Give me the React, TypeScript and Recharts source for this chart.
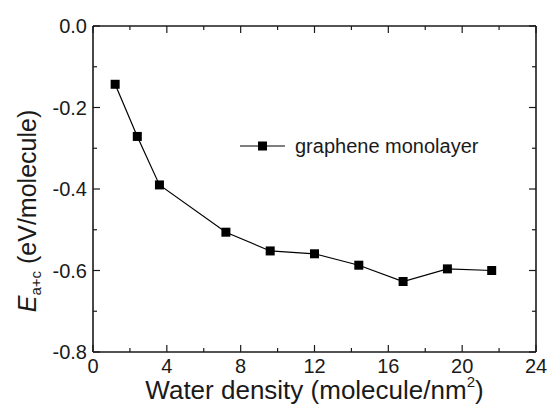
import React from "react";
import {
  LineChart,
  Line,
  XAxis,
  YAxis,
} from "recharts";

const densities = [1.2, 2.4, 3.6, 7.2, 9.6, 12, 14.4, 16.8, 19.2, 21.6];
const energies = [-0.143, -0.271, -0.39, -0.506, -0.552, -0.559, -0.587, -0.627, -0.596, -0.6];
const xTicks = [0, 2, 4, 6, 8, 10, 12, 14, 16, 18, 20, 22, 24];
const yTicks = [0, -0.1, -0.2, -0.3, -0.4, -0.5, -0.6, -0.7, -0.8];
const seriesName = "graphene monolayer";

const data = densities.map((d, i) => ({ x: d, e: energies[i] }));

const FONT = "'Liberation Sans', Arial, sans-serif";
const INK = "#1a1a1a";
const MAJOR = 7;
const MINOR = 4;

// chart box
const W = 549;
const H = 406;
const M_TOP = 26;
const M_RIGHT = 13;
const Y_AXIS_W = 93;
const X_AXIS_H = 54;
const PLOT_W = W - Y_AXIS_W - M_RIGHT;
const PLOT_H = H - M_TOP - X_AXIS_H;
const X_MAX = 24;
const Y_MIN = -0.8;

const isMajorX = (v: number) => Math.round(v) % 4 === 0;
const isMajorY = (v: number) => Math.round(Math.abs(v) * 10) % 2 === 0;

const BottomTick = (props: any) => {
  const { x, y, payload } = props;
  const major = isMajorX(payload.value);
  return (
    <g>
      <line x1={x} x2={x} y1={y} y2={y - (major ? MAJOR : MINOR)} stroke={INK} strokeWidth={1.2} />
      {major && (
        <text x={x} y={y + 21} textAnchor="middle" fontSize={20} fontFamily={FONT} fill={INK}>
          {payload.value}
        </text>
      )}
    </g>
  );
};

const LeftTick = (props: any) => {
  const { x, y, payload } = props;
  const major = isMajorY(payload.value);
  return (
    <g>
      <line x1={x} x2={x + (major ? MAJOR : MINOR)} y1={y} y2={y} stroke={INK} strokeWidth={1.2} />
      {major && (
        <text x={x - 6} y={y} dy="0.35em" textAnchor="end" fontSize={20} fontFamily={FONT} fill={INK}>
          {payload.value.toFixed(1)}
        </text>
      )}
    </g>
  );
};

const SquareDot = (props: any) => {
  const { cx, cy } = props;
  if (cx == null || cy == null) return null;
  return <rect x={cx - 4.5} y={cy - 4.5} width={9} height={9} fill="#000" />;
};

const YTitle = (props: any) => {
  const vb = props.viewBox || { x: 0, y: 0, width: 0, height: 0 };
  const cx = vb.x + 36;
  const cy = vb.y + vb.height / 2 + 22;
  return (
    <text
      x={cx}
      y={cy}
      transform={`rotate(-90 ${cx} ${cy})`}
      textAnchor="middle"
      fontSize={25}
      fontFamily={FONT}
      fill={INK}
    >
      <tspan fontStyle="italic">E</tspan>
      <tspan fontSize={15} dy={5}>a+c</tspan>
      <tspan dy={-5}> (eV/molecule)</tspan>
    </text>
  );
};

const XTitle = (props: any) => {
  const vb = props.viewBox || { x: 0, y: 0, width: 0, height: 0 };
  const cx = vb.x + vb.width / 2;
  return (
    <text x={cx} y={vb.y + 47} textAnchor="middle" fontSize={26} fontFamily={FONT} fill={INK}>
      Water density (molecule/nm
      <tspan fontSize={15} dy={-12}>2</tspan>
      <tspan dy={12}>)</tspan>
    </text>
  );
};

// top and right frame with mirrored inward ticks, laid over the chart
const Frame = () => {
  const left = Y_AXIS_W;
  const top = M_TOP;
  const right = Y_AXIS_W + PLOT_W;
  return (
    <svg width={W} height={H} style={{ position: "absolute", left: 0, top: 0, pointerEvents: "none" }}>
      <line x1={left} x2={right} y1={top} y2={top} stroke={INK} strokeWidth={1.6} />
      <line x1={right} x2={right} y1={top} y2={top + PLOT_H} stroke={INK} strokeWidth={1.6} />
      {xTicks.map((v) => {
        const x = left + (v / X_MAX) * PLOT_W;
        return (
          <line key={`t${v}`} x1={x} x2={x} y1={top} y2={top + (isMajorX(v) ? MAJOR : MINOR)} stroke={INK} strokeWidth={1.2} />
        );
      })}
      {yTicks.map((v) => {
        const y = top + (v / Y_MIN) * PLOT_H;
        return (
          <line key={`r${v}`} x1={right} x2={right - (isMajorY(v) ? MAJOR : MINOR)} y1={y} y2={y} stroke={INK} strokeWidth={1.2} />
        );
      })}
    </svg>
  );
};

const LegendBox = () => (
  <svg width={250} height={30} style={{ position: "absolute", left: 238, top: 132 }}>
    <line x1={2} x2={47} y1={14} y2={14} stroke="#000" strokeWidth={1.2} />
    <rect x={20} y={9.5} width={9} height={9} fill="#000" />
    <text x={57} y={21} fontSize={20} fontFamily={FONT} fill={INK}>
      {seriesName}
    </text>
  </svg>
);

export default function App() {
  return (
    <div style={{ position: "absolute", left: 0, top: 0, width: W, height: H, background: "#fff" }}>
      <LineChart
        width={W}
        height={H}
        data={data}
        margin={{ top: M_TOP, right: M_RIGHT, bottom: 0, left: 0 }}
      >
        <XAxis
          dataKey="x"
          type="number"
          domain={[0, X_MAX]}
          ticks={xTicks}
          interval={0}
          tickSize={0}
          tickMargin={0}
          tickLine={false}
          tick={<BottomTick />}
          height={X_AXIS_H}
          axisLine={{ stroke: INK, strokeWidth: 1.6 }}
          label={{ content: <XTitle /> }}
        />
        <YAxis
          type="number"
          domain={[Y_MIN, 0]}
          ticks={yTicks}
          interval={0}
          tickSize={0}
          tickMargin={0}
          tickLine={false}
          tick={<LeftTick />}
          width={Y_AXIS_W}
          axisLine={{ stroke: INK, strokeWidth: 1.6 }}
          label={{ content: <YTitle /> }}
        />
        <Line
          dataKey="e"
          name={seriesName}
          stroke="#000"
          strokeWidth={1.2}
          dot={<SquareDot />}
          activeDot={false}
          isAnimationActive={false}
        />
      </LineChart>
      <Frame />
      <LegendBox />
    </div>
  );
}
